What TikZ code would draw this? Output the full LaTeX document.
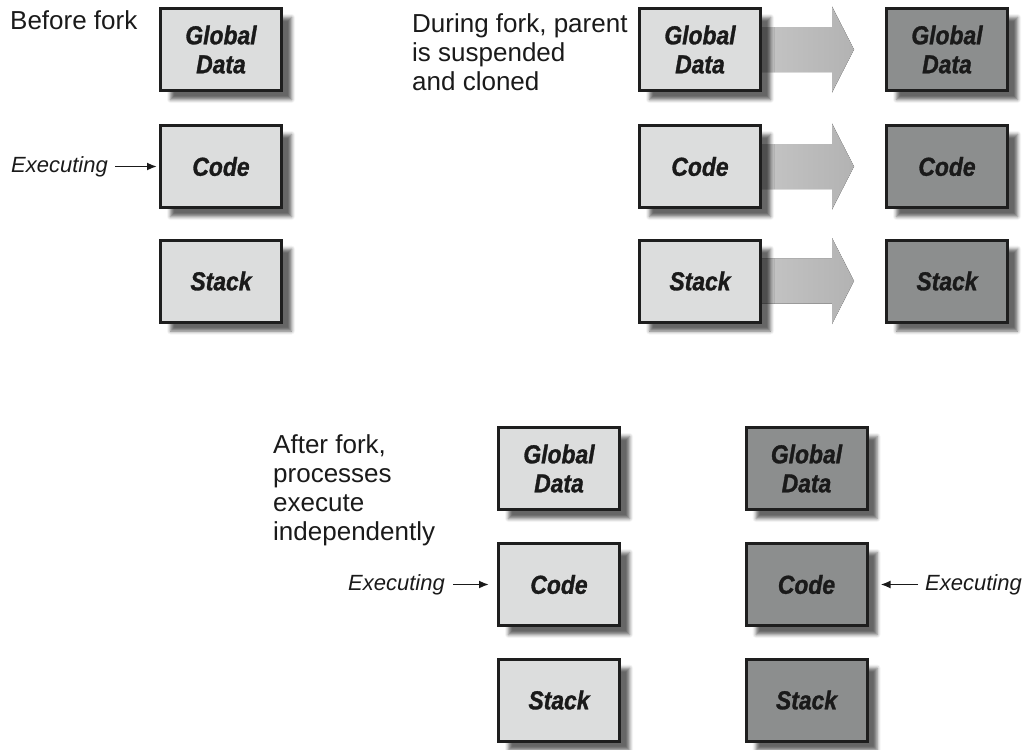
\documentclass[tikz,border=0pt]{standalone}
\usepackage{fontspec}
\setmainfont{Liberation Sans}
\newfontfamily\boxfont[FakeStretch=0.88,FakeBold=1.2]{Liberation Sans}
\usetikzlibrary{shadows.blur,calc,arrows.meta,backgrounds}
\definecolor{lightfill}{HTML}{DCDDDD}
\definecolor{darkfill}{HTML}{8C8E8E}
\definecolor{boxline}{HTML}{1E1E1E}
\definecolor{txt}{HTML}{1A1A1A}
\begin{document}
\begin{tikzpicture}[x=1pt,y=1pt,
  box/.style={draw=boxline, line width=3pt, minimum width=121pt, minimum height=82pt,
    inner sep=0pt, align=center, text=txt,
    font=\boxfont\fontsize{26}{29}\selectfont\bfseries\itshape,
    blur shadow={shadow xshift=10pt, shadow yshift=-9pt, shadow blur radius=3.5pt, shadow opacity=60}},
  parentbox/.style={box, fill=lightfill},
  childbox/.style={box, fill=darkfill},
  lbl/.style={anchor=north west, inner sep=0pt, align=left, text=txt,
    font=\fontsize{26}{29}\selectfont},
  exlbl/.style={inner sep=0pt, text=txt, font=\fontsize{22}{26}\selectfont\itshape},
  exarrow/.style={line width=1.8pt, draw=txt, -{Latex[length=10pt,width=8pt]}},
  fat/.style={left color=gray!46, right color=gray!60, draw=none}
]
\path[use as bounding box] (0,0) rectangle (1026,-750);

% Before fork
\node[parentbox] (a1) at (221,-49.5) {Global\\Data};
\node[parentbox] (a2) at (221,-166.5) {Code};
\node[parentbox] (a3) at (221,-281) {Stack};

% During fork
\node[parentbox] (b1) at (700,-49.5) {Global\\Data};
\node[parentbox] (b2) at (700,-166.5) {Code};
\node[parentbox] (b3) at (700,-281) {Stack};
\node[childbox] (c1) at (947,-49.5) {Global\\Data};
\node[childbox] (c2) at (947,-166.5) {Code};
\node[childbox] (c3) at (947,-281) {Stack};

% After fork
\node[parentbox] (d1) at (559,-468.5) {Global\\Data};
\node[parentbox] (d2) at (559,-584.5) {Code};
\node[parentbox] (d3) at (559,-700) {Stack};
\node[childbox] (e1) at (806.5,-468.5) {Global\\Data};
\node[childbox] (e2) at (806.5,-584.5) {Code};
\node[childbox] (e3) at (806.5,-700) {Stack};

% labels
\node[lbl] (l1) at (10,-10) {Before fork};
\node[lbl] (l2) at (412,-13) {During fork, parent\\is suspended\\and cloned};
\node[lbl] (l3) at (273,-434) {After fork,\\processes\\execute\\independently};

% Executing pointers
\node[exlbl, anchor=east] (x1) at (108,-166.5) {Executing};
\draw[exarrow, shorten <=7pt, shorten >=2pt] (x1) -- (a2);
\node[exlbl, anchor=east] (x2) at (445,-584.5) {Executing};
\draw[exarrow, shorten <=8pt, shorten >=8pt] (x2) -- (d2);
\node[exlbl, anchor=west] (x3) at (925,-584.5) {Executing};
\draw[exarrow, shorten <=7pt, shorten >=12pt] (x3) -- (e2);

% clone arrows
\begin{scope}[on background layer]
\foreach \s/\t in {b1/c1,b2/c2,b3/c3}{
  \fill[fat] ($(\s.east)+(0,22.5)$) -- ($(\t.west)+(-53,22.5)$) -- ($(\t.west)+(-53,43)$)
    -- ($(\t.west)+(-31,0)$) -- ($(\t.west)+(-53,-43)$) -- ($(\t.west)+(-53,-22.5)$)
    -- ($(\s.east)+(0,-22.5)$) -- cycle;
}
\end{scope}
\end{tikzpicture}
\end{document}
